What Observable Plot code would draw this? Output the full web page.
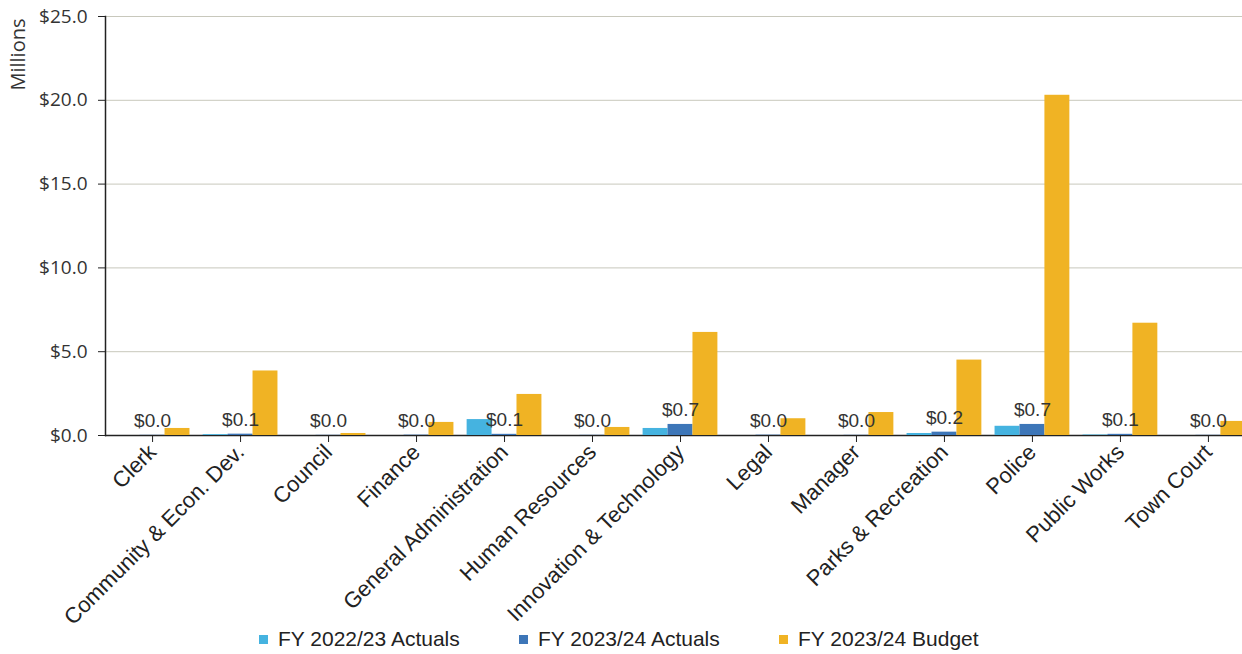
<!DOCTYPE html>
<html>
<head>
<meta charset="utf-8">
<script src="https://cdn.jsdelivr.net/npm/d3@7"></script>
<script src="https://cdn.jsdelivr.net/npm/@observablehq/plot@0.6"></script>
<style>
  html, body { margin: 0; padding: 0; background: #fff; overflow: hidden; }
  #chart { position: relative; width: 1242px; height: 654px; }
  #chart svg { position: absolute; left: 0; top: 0; }
  #legend { position: absolute; left: 0; top: 624px; width: 1242px; height: 30px;
            font-family: "Liberation Sans", Arial, sans-serif; font-size: 21px; color: #222; }
  .item { position: absolute; top: 0; height: 30px; display: flex; align-items: center; white-space: nowrap; }
  .swatch { width: 9px; height: 9px; margin-right: 10px; display: inline-block; }
</style>
</head>
<body>
<div id="chart"></div>
<script>
// Department spending, in millions of dollars
const categories = [
  "Clerk", "Community & Econ. Dev.", "Council", "Finance", "General Administration",
  "Human Resources", "Innovation & Technology", "Legal", "Manager",
  "Parks & Recreation", "Police", "Public Works", "Town Court"
];
const series = ["FY 2022/23 Actuals", "FY 2023/24 Actuals", "FY 2023/24 Budget"];
const fy2223Actuals = [0, 0.05, 0, 0, 0.95, 0, 0.42, 0, 0, 0.12, 0.55, 0.03, 0];
const fy2324Actuals = [0.01, 0.08, 0.01, 0.02, 0.07, 0.01, 0.66, 0.02, 0.01, 0.2, 0.66, 0.07, 0.01];
const fy2324Budget = [0.42, 3.85, 0.12, 0.78, 2.45, 0.48, 6.15, 1.0, 1.37, 4.5, 20.3, 6.7, 0.84];
const seriesColors = ["#45b3e0", "#3d76b8", "#f0b324"];
const yTicks = [0, 5, 10, 15, 20, 25];

const valuesBySeries = [fy2223Actuals, fy2324Actuals, fy2324Budget];
const rows = categories.flatMap((category, i) =>
  series.map((s, j) => ({category, series: s, value: valuesBySeries[j][i]}))
);
const labelRows = rows.filter(d => d.series === series[1]);
const money = v => "$" + d3.format(".1f")(v);

// shared frame geometry for both layers
const frame = {width: 1242, height: 624, marginTop: 16, marginBottom: 189, marginLeft: 105};
const yScale = {domain: [0, 25], axis: null};

// back layer: gridlines, axis lines, y ticks and unit label
const back = Plot.plot({
  ...frame,
  marginRight: 0,
  style: {fontFamily: "'Liberation Sans', Arial, sans-serif", background: "#fff", overflow: "visible"},
  y: yScale,
  marks: [
    Plot.ruleY(yTicks.slice(1), {stroke: "#c8c8bc", strokeWidth: 1}),
    Plot.ruleY([0], {stroke: "#222", strokeWidth: 1.5}),
    Plot.frame({anchor: "left", stroke: "#222", strokeWidth: 1.5}),
    Plot.axisY(yTicks, {
      tickSize: 7, tickPadding: 11, label: null, tickFormat: money,
      fontSize: 19, fontFamily: "'Open Sans', sans-serif", fill: "#333", stroke: "#222"
    }),
    Plot.text(["Millions"], {
      frameAnchor: "top-left", text: d => d, rotate: -90,
      textAnchor: "end", dx: -95, dy: 2, fontSize: 20,
      fontFamily: "'Open Sans', sans-serif", fill: "#333"
    })
  ]
});

// front layer: grouped bars per department, value labels and department axis
const front = Plot.plot({
  ...frame,
  marginRight: -13,
  style: {fontFamily: "'Liberation Sans', Arial, sans-serif", background: "transparent", overflow: "visible"},
  fx: {domain: categories, paddingInner: 0.15, paddingOuter: 0.11, round: false, label: null, axis: null},
  x: {domain: series, axis: null, padding: 0, round: false},
  y: yScale,
  color: {domain: series, range: seriesColors},
  marks: [
    Plot.barY(rows, {fx: "category", x: "series", y: "value", fill: "series"}),
    Plot.axisFx({
      anchor: "bottom", tickRotate: -45, tickSize: 7, tickPadding: 6, label: null,
      fontSize: 22, fill: "#222", stroke: "#222"
    }),
    Plot.text(labelRows, {
      fx: "category", x: "series", y: "value", text: d => money(d.value),
      lineAnchor: "bottom", dy: -8, fontSize: 19, fill: "#333"
    })
  ]
});

const root = document.getElementById("chart");
root.appendChild(back);
root.appendChild(front);

// legend below the plot
const legend = document.createElement("div");
legend.id = "legend";
const legendLeft = [259, 519, 779];
series.forEach((s, i) => {
  const item = document.createElement("div");
  item.className = "item";
  item.style.left = legendLeft[i] + "px";
  const sw = document.createElement("span");
  sw.className = "swatch";
  sw.style.background = seriesColors[i];
  item.appendChild(sw);
  item.appendChild(document.createTextNode(s));
  legend.appendChild(item);
});
root.appendChild(legend);
</script>
</body>
</html>
